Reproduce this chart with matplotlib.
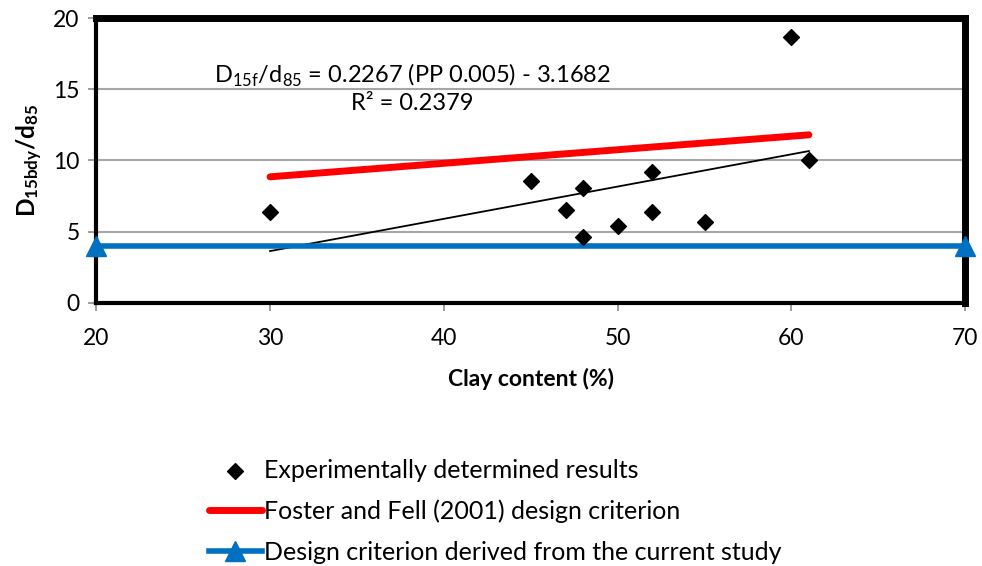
import numpy as np
import matplotlib.pyplot as plt

plt.rcParams['font.family'] = ['Lato', 'DejaVu Sans']
plt.rcParams['mathtext.fontset'] = 'custom'
plt.rcParams['mathtext.rm'] = 'Lato'
plt.rcParams['mathtext.bf'] = 'Lato:bold'

# experimental results
clay = [30, 45, 47, 48, 48, 50, 52, 52, 55, 60, 61]
ratio = [6.35, 8.55, 6.5, 8.05, 4.65, 5.4, 9.2, 6.35, 5.7, 18.65, 10.05]

# Foster and Fell (2001) criterion
ff_x = [30, 61]
ff_y = [8.85, 11.8]

# current study criterion
cs_x = [20, 70]
cs_y = [4, 4]

# linear trend (from the chart equation)
slope = 0.2267
intercept = -3.1682
trend_x = np.array([30, 61])

fig = plt.figure(figsize=(9.82, 5.66), dpi=100)
ax = fig.add_axes([0.098, 0.465, 0.885, 0.503])

ax.yaxis.grid(True, color='#a6a6a6', linewidth=1.5)
ax.set_axisbelow(True)

ax.plot(trend_x, slope * trend_x + intercept, color='black', linewidth=1.3, zorder=3)
ax.plot(ff_x, ff_y, color='#ff0000', linewidth=5, solid_capstyle='round', zorder=4,
        label='Foster and Fell (2001) design criterion')
ax.plot(cs_x, cs_y, color='#0070c0', linewidth=4, marker='^', markersize=14,
        clip_on=False, zorder=5, label='Design criterion derived from the current study')
ax.scatter(clay, ratio, marker='D', s=65, color='black', zorder=6,
           label='Experimentally determined results')

ax.set_xlim(20, 70)
ax.set_ylim(0, 20)
ax.set_xticks([20, 30, 40, 50, 60, 70])
ax.set_yticks([0, 5, 10, 15, 20])
ax.tick_params(axis='both', labelsize=16.5, color='#8c8c8c', length=6, width=1.2, direction='out')
ax.tick_params(axis='x', pad=12)
ax.tick_params(axis='y', pad=6)

for side in ['top', 'right']:
    ax.spines[side].set_linewidth(5)
for side in ['left', 'bottom']:
    ax.spines[side].set_linewidth(3)
for s in ax.spines.values():
    s.set_color('black')

ax.set_xlabel('Clay content (%)', fontsize=16.5, fontweight='bold', labelpad=14)
ax.set_ylabel(r'$\mathbf{D_{15bdy}/d_{85}}$', fontsize=17.5, labelpad=6)

ax.text(38.2, 16.0, r'D$_{\mathrm{15f}}$/d$_{\mathrm{85}}$ = 0.2267 (PP 0.005) - 3.1682',
        fontsize=17, ha='center', va='center')
ax.text(38.2, 14.0, 'R² = 0.2379', fontsize=17, ha='center', va='center')

handles, labels = ax.get_legend_handles_labels()
order = [2, 0, 1]
fig.legend([handles[i] for i in order], [labels[i] for i in order],
           loc='upper left', bbox_to_anchor=(0.19, 0.2295), frameon=False,
           fontsize=18, handlelength=2.1, handletextpad=0.1, labelspacing=0.72)

fig.savefig('out.png', dpi=100)
